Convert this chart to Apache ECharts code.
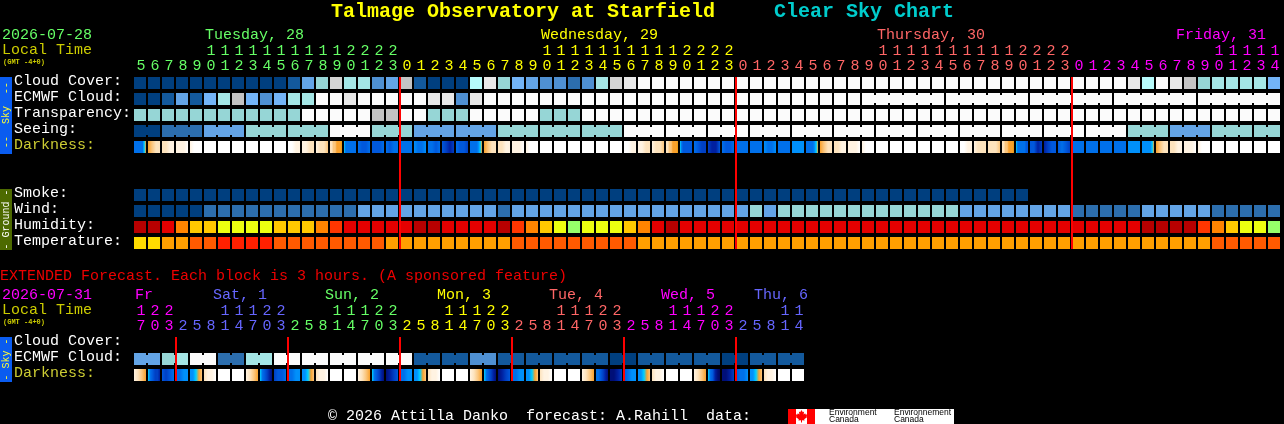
<!DOCTYPE html>
<html><head><meta charset="utf-8">
<style>html,body{margin:0;padding:0;background:#000}#c{width:1284px;height:424px}</style>
<script src="https://cdn.jsdelivr.net/npm/echarts@6/dist/echarts.min.js"></script>
</head><body><div id="c"></div>
<script>
// ---------- data ----------
const mainHours=[5,6,7,8,9,10,11,12,13,14,15,16,17,18,19,20,21,22,23,
0,1,2,3,4,5,6,7,8,9,10,11,12,13,14,15,16,17,18,19,20,21,22,23,
0,1,2,3,4,5,6,7,8,9,10,11,12,13,14,15,16,17,18,19,20,21,22,23,
0,1,2,3,4,5,6,7,8,9,10,11,12,13,14];
const extHours=[17,20,23,2,5,8,11,14,17,20,23,2,5,8,11,14,17,20,23,2,5,8,11,14,17,20,23,2,5,8,11,14,17,20,23,2,5,8,11,14,17,20,23,2,5,8,11,14];
const mainRows=['Cloud Cover:','ECMWF Cloud:','Transparency:','Seeing:','Darkness:',' ','  ','Smoke:','Wind:','Humidity:','Temperature:'];
const extRows=['Cloud Cover:','ECMWF Cloud:','Darkness:'];
const mainMidnights=[19,43,67];
const extMidnights=[3,11,19,27,35,43];
const mainDayLabels=['Tuesday, 28','Wednesday, 29','Thursday, 30','Friday, 31'];
const extDayLabels=['Fr','Sat, 1','Sun, 2','Mon, 3','Tue, 4','Wed, 5','Thu, 6'];
const cloudCover=[12,12,12,12,12,12,12,12,12,12,12,11,8,6,2,5,5,9,8,3,
11,12,12,12,4,1,6,7,8,9,9,10,9,5,2,1,0,0,0,0,
0,0,0,0,0,0,0,0,0,0,0,0,0,0,0,0,0,0,0,0,
0,0,0,0,0,0,0,0,0,0,0,1,4,0,1,3,6,5,5,5,5,7];
const ecmwfCloud=[12,12,11,8,11,7,5,3,7,9,7,5,5,0,0,1,0,0,0,0,
0,1,1,9,1,0,0,0,0,0,0,0,0,0,0,0,0,0,0,0,
0,0,0,0,0,0,0,0,0,0,0,0,0,0,0,0,0,0,0,0,
0,0,0,0,0,0,0,0,0,0,0,0,0,0,0,0,0,0,0,0,0,0];
const transparency=[6,6,6,6,6,6,6,6,6,6,6,6,0,0,0,0,0,3,3,0,
0,6,6,6,0,0,0,0,0,6,6,6,0,0,0,0,0,0,0,0,
0,0,0,0,0,0,0,0,0,0,0,0,0,0,0,0,0,0,0,0,
0,0,0,0,0,0,0,0,0,0,0,0,0,0,0,0,0,0,0,0,0,0];
const seeing=[12,12,10,10,10,8,8,8,6,6,6,6,6,6,0,0,0,6,6,6,
8,8,8,8,8,8,6,6,6,6,6,6,6,6,6,0,0,0,0,0,
0,0,0,0,0,0,0,0,0,0,0,0,0,0,0,0,0,0,0,0,
0,0,0,0,0,0,0,0,0,0,0,6,6,6,8,8,8,6,6,6,6,6];
const smoke=[12,12,12,12,12,12,12,12,12,12,12,12,12,12,12,12,12,12,12,12,
12,12,12,12,12,12,12,12,12,12,12,12,12,12,12,12,12,12,12,12,
12,12,12,12,12,12,12,12,12,12,12,12,12,12,12,12,12,12,12,12,
12,12,12,12];
const wind=[12,12,12,12,12,10,10,10,10,10,10,10,10,10,10,10,8,8,8,8,
8,8,8,8,8,8,10,8,8,8,8,8,8,8,8,8,8,8,8,8,
8,8,8,8,6,8,6,6,6,6,6,6,6,6,6,6,6,6,6,8,
8,8,8,8,8,8,8,10,10,10,10,10,8,8,8,8,8,10,10,10,10,10];
const humidity=[0,0,1,3,4,4,5,5,5,5,4,4,4,3,2,1,1,1,1,1,
0,0,1,1,1,1,0,2,3,4,5,6,5,5,5,4,3,1,0,1,
1,1,1,1,1,1,1,1,1,1,1,1,1,1,1,1,1,1,1,1,
1,1,1,1,1,1,1,1,1,1,1,1,0,0,0,0,2,3,4,5,5,6];
const temperature=[0,0,1,1,2,2,3,3,3,3,2,2,2,2,2,2,2,2,1,1,
1,1,1,1,1,1,1,2,2,2,2,2,2,2,2,2,1,1,1,1,
1,1,1,1,1,1,1,1,1,1,1,1,1,1,1,1,1,1,1,1,
1,1,1,1,1,1,1,1,1,1,1,1,1,1,1,1,1,2,2,2,2,2];
const darkness=['88888864','4322','2211','1110','1000','0000','0000','0000','0000','0000','0000','0011','1122','1223','22334445','68888888','8998','9998','8988',
'8888','7887','8898','9aba','899a','88888764','4322','2211','1110','1000','0000','0000','0000','0000','0000','0000','0011','1122','1223','22334445','68999999','89aa','abb9','8998',
'8888','8888','7887','8888','7777','88888764','4322','2211','1110','1000','0000','0000','0000','0000','0000','0000','0011','1222','2223','22334445','68888899','99ba','ba99','989a',
'8888','8888','8888','8888','7777','77777764','4322','2211','1110','1000','0000','0000','0000','0000','0000'];
const extEcmwf=[8,8,6,5,0,0,10,10,5,5,0,0,0,0,0,0,0,0,0,0,11,11,11,11,9,9,11,11,11,11,11,11,11,11,12,12,11,11,11,11,11,11,12,12,11,11,11,11];
const extDarkness=['1234','689aab','9a98','8877','77643','2110','0000','0000',
'1234','689abc','a998','8877','77643','2110','0000','0000',
'1234','689abc','cba9','8877','77643','2110','0000','0000',
'1234','689abc','cba9','8877','77643','2110','0000','0000',
'1234','889abc','ccba','9877','77643','2110','0000','0000',
'1234','689bcd','ccba','9887','77643','2110','0000','0000'];

// ---------- palettes and groups ----------
const skyPal=['#fbfbfb','#e8e8e8','#d4d4d4','#c3c3c3','#b6fbfb','#a4e6e6','#96d6d6','#73b4f7','#63a4e6','#4f90d2','#2c6eae','#13599c','#003f7f'];
const humPal=['#b80000','#e40000','#ff3600','#ff8400','#ffc800','#ecff10','#96ff6a'];
const tempPal=['#ffdc00','#ff9f00','#ff5a00','#ff2000'];
const darkPal=['#ffffff','#fff3e2','#fde3bd','#fbc67d','#f9a12c','#e89a10','#00d0ff','#0090fa','#0070ea','#0058dc','#0040c4','#0020a0','#000f78','#000860'];
const dayCols=['#66ff66','#ffff00','#ff6666','#ff00ff'];
const extDayCols=['#ff00ff','#6666ff','#66ff66','#ffff00','#ff6666','#ff00ff','#6666ff'];
const FONT='"Liberation Mono"';
const colorOf=(i,mids,cols)=>{let d=0;mids.forEach(m=>{if(i>=m)d++});return cols[d]};

// ---------- helpers ----------
const cellSeries=(gi,z,rowIdx,values,pal,joinFn)=>({
  type:'custom',xAxisIndex:gi,yAxisIndex:gi,z,silent:true,
  data:values.map((v,i)=>[i,rowIdx,v]),
  renderItem:(p,api)=>{
    const c=api.coord([api.value(0),api.value(1)]);const s=api.size([1,1]);
    const x=c[0]-s[0]/2,y=c[1]-6;const fill=pal[api.value(2)];const i=api.value(0);
    const kids=[{type:'rect',shape:{x,y,width:12,height:12},style:{fill}}];
    if(joinFn&&joinFn(i)&&i<values.length-1)kids.push({type:'rect',shape:{x:x+12,y:y+2,width:2,height:8},style:{fill}});
    return {type:'group',children:kids};
  }
});
const gradSeries=(gi,rowIdx,values)=>({
  type:'custom',xAxisIndex:gi,yAxisIndex:gi,z:3,silent:true,
  data:values.map((v,i)=>[i,rowIdx]),
  renderItem:(p,api)=>{
    const i=api.value(0);const c=api.coord([i,api.value(1)]);const s=api.size([1,1]);
    const st=values[i].split('').map(h=>parseInt(h,16));
    const stops=st.map((v,k)=>({offset:k/(st.length-1),color:darkPal[v]}));
    return {type:'rect',shape:{x:c[0]-s[0]/2,y:c[1]-6,width:12,height:12},
      style:{fill:new echarts.graphic.LinearGradient(0,0,1,0,stops)}};
  }
});
const lineSeries=(gi,mids,lastRow)=>({
  type:'custom',xAxisIndex:gi,yAxisIndex:gi,z:9,silent:true,
  data:mids.map(m=>[m]),
  renderItem:(p,api)=>{
    const m=api.value(0);const a=api.coord([m,0]);const b=api.coord([m,lastRow]);const s=api.size([1,1]);
    return {type:'rect',shape:{x:a[0]-s[0]/2-1,y:a[1]-6,width:2,height:b[1]-a[1]+12},style:{fill:'#ff0000'}};
  }
});
const xAxis=(gi,hours,mids,cols)=>({
  type:'category',gridIndex:gi,position:'top',data:hours.map(String),
  axisLine:{show:false},axisTick:{show:false},splitLine:{show:false},
  axisLabel:{show:true,interval:0,margin:1,fontFamily:FONT,fontSize:15,lineHeight:15,hideOverlap:false,
    formatter:(v)=>{const h=+v;return (h>=10?String(Math.floor(h/10)):' ')+'\n'+(h%10)},
    color:(v,i)=>colorOf(i,mids,cols)}
});
const yAxis=(gi,rows)=>({
  type:'category',gridIndex:gi,inverse:true,data:rows,
  axisLine:{show:false},axisTick:{show:false},splitLine:{show:false},
  axisLabel:{show:true,interval:0,margin:120,align:'left',verticalAlign:'bottom',lineHeight:4,fontFamily:FONT,fontSize:15,
    color:(v)=>v==='Darkness:'?'#cccc33':'#ffffff'}
});
const T=(text,x,y,fill,size,extra)=>Object.assign({type:'text',x,y,silent:true,z:20,
  style:Object.assign({text,fill,font:(extra&&extra.weight||'')+' '+size+'px '+FONT,textVerticalAlign:'middle',verticalAlign:'middle'},extra&&extra.style||{})},extra&&extra.el||{});
const V=(text,x,y,fill)=>({type:'text',x,y,rotation:Math.PI/2,silent:true,z:20,
  style:{text,fill,font:'10px '+FONT,align:'center',verticalAlign:'middle'}});
const R=(x,y,w,h,fill)=>({type:'rect',silent:true,z:15,shape:{x,y,width:w,height:h},style:{fill}});
const maple=[[801.5,410],[802.8,412.3],[804.1,411.6],[803.6,414.5],[805.2,413.2],[805.6,414.6],[807.2,414.4],[806.6,416.4],[807.4,416.9],[804.2,419.3],[804.6,420.6],[802,420.2],[802,422.4],[801,422.4],[801,420.2],[798.4,420.6],[798.8,419.3],[795.6,416.9],[796.4,416.4],[795.8,414.4],[797.4,414.6],[797.8,413.2],[799.4,414.5],[798.9,411.6],[800.2,412.3]];

const graphic=[
  T('Talmage Observatory at Starfield',331,12,'#ffff00',20,{weight:'bold'}),
  T('Clear Sky Chart',774,12,'#00cccc',20,{weight:'bold'}),
  T('2026-07-28',2,35,'#66ff66',15),
  T('Local Time',2,50,'#cccc00',15),
  T('(GMT -4+0)',3,62,'#cccc00',7,{weight:'bold'}),
  R(0,77,12,77,'#0a5cf0'),
  V('--  Sky  --',6,115,'#ffff33'),
  R(0,189,12,61,'#4d6a00'),
  V('- Ground -',6,219.5,'#ffffff'),
  T('EXTENDED Forecast. Each block is 3 hours. (A sponsored feature)',0,276.5,'#ee0000',15),
  T('2026-07-31',2,295,'#ff00ff',15),
  T('Local Time',2,310,'#cccc00',15),
  T('(GMT -4+0)',3,322,'#cccc00',7,{weight:'bold'}),
  R(0,337,12,45,'#0a5cf0'),
  V('- Sky -',6,359.5,'#ffff33'),
  T('\u00a9 2026 Attilla Danko  forecast: A.Rahill  data:',328,416.5,'#ffffff',15),
  R(788,409,166,15,'#ffffff'),
  R(788,409,8,15,'#ff0000'),
  R(807,409,8,15,'#ff0000'),
  {type:'polygon',silent:true,z:16,shape:{points:maple},style:{fill:'#ff0000'}},
  T('Environment',829,413,'#000000',8.5,{}),
  T('Canada',829,420,'#000000',8.5,{}),
  T('Environnement',894,413,'#000000',8.5,{}),
  T('Canada',894,420,'#000000',8.5,{})
];
graphic.slice(-4).forEach(g=>{g.style.font='8.5px "Liberation Sans"';g.z=17});
[205,541,877,1176].forEach((x,i)=>graphic.push(T(mainDayLabels[i],x,35,dayCols[i],15)));
[135,213,325,437,549,661,754].forEach((x,i)=>graphic.push(T(extDayLabels[i],x,295,extDayCols[i],15)));

const seeingJoin=i=>i===0||(i>=2&&(i-2)%3!==2);
const ecmwfJoin=i=>i>=52&&(i-52)%6!==5;
const extJoin=i=>i%2===0;

const option={
  backgroundColor:'#000',animation:false,
  grid:[{left:134,top:75,width:1148,height:176},{left:134,top:335,width:672,height:48}],
  xAxis:[xAxis(0,mainHours,mainMidnights,dayCols),xAxis(1,extHours,extMidnights,extDayCols)],
  yAxis:[yAxis(0,mainRows),yAxis(1,extRows)],
  series:[
    cellSeries(0,3,0,cloudCover,skyPal),
    cellSeries(0,3,1,ecmwfCloud,skyPal,ecmwfJoin),
    cellSeries(0,3,2,transparency,skyPal),
    cellSeries(0,3,3,seeing,skyPal,seeingJoin),
    gradSeries(0,4,darkness),
    cellSeries(0,3,7,smoke,skyPal),
    cellSeries(0,3,8,wind,skyPal),
    cellSeries(0,3,9,humidity,humPal),
    cellSeries(0,3,10,temperature,tempPal),
    lineSeries(0,mainMidnights,10),
    cellSeries(1,3,1,extEcmwf,skyPal,extJoin),
    gradSeries(1,2,extDarkness),
    lineSeries(1,extMidnights,2)
  ],
  graphic:{elements:graphic}
};
const chart=echarts.init(document.getElementById('c'),null,{renderer:'canvas'});
chart.setOption(option);
</script></body></html>
